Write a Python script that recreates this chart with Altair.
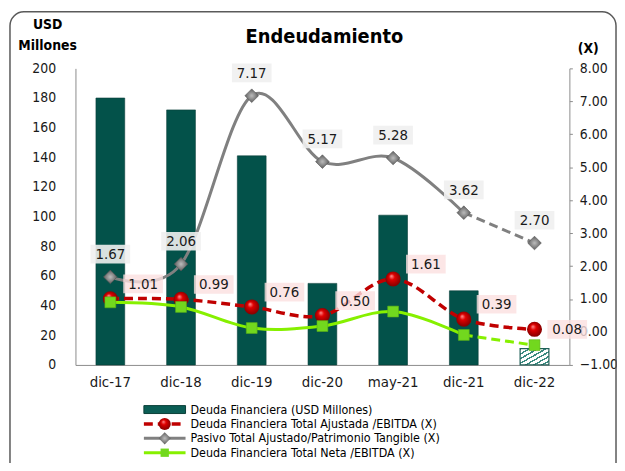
import altair as alt
import pandas as pd

categories = ["dic-17", "dic-18", "dic-19", "dic-20", "may-21", "dic-21", "dic-22"]
deuda_financiera = [180, 172, 141, 55, 101, 50, 11]
pasivo_patrimonio = [1.67, 2.06, 7.17, 5.17, 5.28, 3.62, 2.70]
deuda_ajustada_ebitda = [1.01, 0.99, 0.76, 0.50, 1.61, 0.39, 0.08]
deuda_neta_ebitda = [0.90, 0.76, 0.12, 0.18, 0.62, -0.09, -0.40]
left_ticks = [0, 20, 40, 60, 80, 100, 120, 140, 160, 180, 200]
right_ticks = [-1, 0, 1, 2, 3, 4, 5, 6, 7, 8]
legend_labels = [
    "Deuda Financiera (USD Millones)",
    "Deuda Financiera Total Ajustada /EBITDA (X)",
    "Pasivo Total Ajustado/Patrimonio Tangible (X)",
    "Deuda Financiera Total Neta /EBITDA (X)",
]

df = pd.DataFrame({
    "cat": categories,
    "deuda": deuda_financiera,
    "pasivo": pasivo_patrimonio,
    "ajust": deuda_ajustada_ebitda,
    "neta": deuda_neta_ebitda,
    "i": list(range(len(categories))),
})
one = pd.DataFrame({"k": [0]})

FONT = "DejaVu Sans Condensed, DejaVu Sans"
TEAL = "#03524A"
RED = "#C00000"
GRAY = "#808080"
GREEN = "#86F000"

hatch_stops = []
N = 7
for k in range(N):
    a = k / N
    b = (k + 0.35) / N
    c = (k + 1) / N
    hatch_stops += [
        {"offset": a, "color": "#3a8a80"},
        {"offset": b, "color": "#3a8a80"},
        {"offset": b, "color": "#ffffff"},
        {"offset": c, "color": "#ffffff"},
    ]
hatch = {"gradient": "linear", "x1": 0, "y1": 0, "x2": 1, "y2": 1, "stops": hatch_stops}

red_ball = {"gradient": "radial", "x1": 0.38, "y1": 0.3, "r1": 0, "x2": 0.5, "y2": 0.5, "r2": 0.55,
            "stops": [{"offset": 0, "color": "#ff9a9a"}, {"offset": 0.35, "color": "#e00000"},
                      {"offset": 1, "color": "#7a0000"}]}
gray_dia = {"gradient": "radial", "x1": 0.5, "y1": 0.5, "r1": 0, "x2": 0.5, "y2": 0.5, "r2": 0.6,
            "stops": [{"offset": 0, "color": "#bdbdbd"}, {"offset": 1, "color": "#4a4a4a"}]}
BOX = "M-1,-0.47L1,-0.47L1,0.47L-1,0.47Z"

x = alt.X("cat:N", sort=categories,
          scale=alt.Scale(paddingInner=0.593, paddingOuter=0.29),
          axis=alt.Axis(title=None, labelAngle=0, labelFontSize=15, labelColor="#1a1a1a",
                        labelPadding=10, ticks=False, domainColor="#8c8c8c", labelFont=FONT))

base = alt.Chart(df)

laxis = alt.Axis(values=left_ticks, title=None, orient="left", ticks=False, grid=False,
                 labelPadding=20, labelFontSize=14, labelFont=FONT, labelColor="#1a1a1a",
                 domainColor="#8c8c8c", labelOverlap=False)
lscale = alt.Scale(domain=[0, 200], nice=False)
yL = alt.Y("deuda:Q", scale=lscale, axis=laxis)
bar_solid = base.transform_filter("datum.i < 6").mark_bar(color=TEAL, stroke="#0a3f39", strokeWidth=0.6).encode(x=x, y=yL)
bar_hatch = base.transform_filter("datum.i == 6").mark_bar(fill=hatch, stroke="#1f5f57", strokeWidth=1.2).encode(x=x, y=yL)
bars = alt.layer(bar_solid, bar_hatch)

rscale = alt.Scale(domain=[-1, 8], nice=False)
raxis = alt.Axis(orient="right", values=right_ticks, format=".2f", title=None, tickSize=3,
                 tickColor="#8c8c8c", grid=False, labelPadding=7, labelFontSize=14,
                 labelFont=FONT, labelColor="#1a1a1a", domainColor="#8c8c8c", labelOverlap=False)
yA = alt.Y("ajust:Q", scale=rscale, axis=raxis)
yN = alt.Y("neta:Q", scale=rscale, axis=raxis)
yP = alt.Y("pasivo:Q", scale=rscale, axis=raxis)

red_line = base.mark_line(color=RED, strokeWidth=3.5, strokeDash=[9, 5], interpolate="cardinal").encode(x=x, y=yA)
red_pts = base.mark_point(shape="circle", filled=True, size=230, fill=red_ball, opacity=1).encode(x=x, y=yA)

gray_solid = base.transform_filter("datum.i <= 5").mark_line(color=GRAY, strokeWidth=3, interpolate="cardinal").encode(x=x, y=yP)
gray_dash = base.transform_filter("datum.i >= 5").mark_line(color=GRAY, strokeWidth=3, strokeDash=[9, 5]).encode(x=x, y=yP)
gray_pts = base.mark_point(shape="diamond", filled=True, size=190, fill=gray_dia, stroke="#555555",
                           strokeWidth=0.6, opacity=1).encode(x=x, y=yP)

green_solid = base.transform_filter("datum.i <= 5").mark_line(color=GREEN, strokeWidth=3, interpolate="cardinal").encode(x=x, y=yN)
green_dash = base.transform_filter("datum.i >= 5").mark_line(color=GREEN, strokeWidth=3, strokeDash=[9, 5]).encode(x=x, y=yN)
green_pts = base.mark_point(shape="square", filled=True, size=120, fill="#72D81E", stroke="#5caf17",
                            strokeWidth=0.6, opacity=1).encode(x=x, y=yN)

gray_box = base.mark_point(shape=BOX, size=1600, filled=True, fill="#F0F0F0", opacity=0.9,
                           strokeWidth=0, yOffset=-23).encode(x=x, y=yP)
gray_txt = base.mark_text(dy=-23, fontSize=15, font=FONT, color="#1a1a1a").encode(
    x=x, y=yP, text=alt.Text("pasivo:Q", format=".2f"))

red_box = base.transform_filter("datum.i < 6").mark_point(shape=BOX, size=1600, filled=True, fill="#FBE0E0",
                                                           opacity=0.8, strokeWidth=0, xOffset=33, yOffset=-15).encode(x=x, y=yA)
red_txt = base.transform_filter("datum.i < 6").mark_text(dx=33, dy=-15, fontSize=15, font=FONT, color="#1a1a1a").encode(
    x=x, y=yA, text=alt.Text("ajust:Q", format=".2f"))
red_box2 = base.transform_filter("datum.i == 6").mark_point(shape=BOX, size=1600, filled=True, fill="#FBE0E0",
                                                             opacity=0.8, strokeWidth=0, xOffset=33).encode(x=x, y=yA)
red_txt2 = base.transform_filter("datum.i == 6").mark_text(dx=33, fontSize=15, font=FONT, color="#1a1a1a").encode(
    x=x, y=yA, text=alt.Text("ajust:Q", format=".2f"))

lines = alt.layer(red_line, red_pts, gray_solid, gray_dash, gray_pts, green_solid, green_dash, green_pts,
                  gray_box, gray_txt, red_box, red_txt, red_box2, red_txt2)


def txt(s, px, py, size, bold=False, align="center"):
    return alt.Chart(one).mark_text(text=s, fontSize=size, fontWeight="bold" if bold else "normal",
                                    font=FONT, align=align, baseline="middle", color="#000000").encode(
        x=alt.value(px), y=alt.value(py))


frame = alt.Chart(one).mark_rect(fill=None, stroke="#5a5a5a", strokeWidth=1.5, cornerRadius=14).encode(
    x=alt.value(-66), x2=alt.value(545), y=alt.value(-57), y2=alt.value(430))

annots = [
    txt("Endeudamiento", 251, -32, 20, True),
    txt("USD", -28, -44, 14, True),
    txt("Millones", -28, -23, 14, True),
    txt("(X)", 517, -20, 14, True),
]

ly = [344, 358.5, 373, 387.5]
leg = [
    alt.Chart(one).mark_rect(fill="#0b5e55", stroke="#0a3f39", strokeWidth=1).encode(
        x=alt.value(69), x2=alt.value(111), y=alt.value(ly[0] - 4), y2=alt.value(ly[0] + 4)),
    alt.Chart(one).mark_rule(color=RED, strokeWidth=3.5, strokeDash=[9, 5]).encode(
        x=alt.value(69), x2=alt.value(111), y=alt.value(ly[1])),
    alt.Chart(one).mark_point(shape="circle", filled=True, size=150, fill=red_ball, opacity=1).encode(
        x=alt.value(90), y=alt.value(ly[1])),
    alt.Chart(one).mark_rule(color=GRAY, strokeWidth=3).encode(
        x=alt.value(69), x2=alt.value(111), y=alt.value(ly[2])),
    alt.Chart(one).mark_point(shape="diamond", filled=True, size=150, fill=gray_dia, opacity=1).encode(
        x=alt.value(90), y=alt.value(ly[2])),
    alt.Chart(one).mark_rule(color=GREEN, strokeWidth=3).encode(
        x=alt.value(69), x2=alt.value(111), y=alt.value(ly[3])),
    alt.Chart(one).mark_point(shape="square", filled=True, size=70, fill="#72D81E", opacity=1).encode(
        x=alt.value(90), y=alt.value(ly[3])),
]
for lab, yy in zip(legend_labels, ly):
    leg.append(txt(lab, 116, yy, 12.5, False, "left"))

chart = alt.layer(bars, lines, frame, *annots, *leg).resolve_scale(y="independent").properties(
    width=498, height=299,
    autosize=alt.AutoSizeParams(type="none"),
    padding={"left": 68, "top": 59, "right": 48, "bottom": 97},
    background="white",
).configure_view(stroke=None)

chart.save("out.html", embed_options={"renderer": "svg", "actions": False})
